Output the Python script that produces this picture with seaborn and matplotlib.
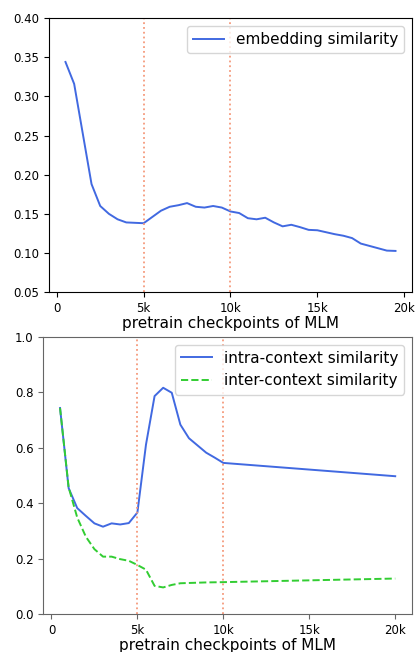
import matplotlib
matplotlib.use("Agg")
import matplotlib.pyplot as plt
import seaborn as sns
import pandas as pd

# ---- data ----
steps_top = [500, 1000, 1500, 2000, 2500, 3000, 3500, 4000, 4500, 5000,
             5500, 6000, 6500, 7000, 7500, 8000, 8500, 9000, 9500, 10000,
             10500, 11000, 11500, 12000, 12500, 13000, 13500, 14000, 14500, 15000,
             15500, 16000, 16500, 17000, 17500, 18000, 18500, 19000, 19500]
embedding_sim = [0.344, 0.316, 0.252, 0.188, 0.160, 0.150, 0.143, 0.139, 0.1385, 0.138,
                 0.146, 0.154, 0.159, 0.161, 0.1637, 0.159, 0.158, 0.160, 0.158, 0.153,
                 0.151, 0.1444, 0.143, 0.145, 0.139, 0.134, 0.136, 0.133, 0.1295, 0.129,
                 0.1265, 0.124, 0.122, 0.119, 0.112, 0.109, 0.106, 0.103, 0.1026]

steps_bot = [500, 1000, 1500, 2000, 2500, 3000, 3500, 4000, 4500, 5000,
             5500, 6000, 6500, 7000, 7500, 8000, 8500, 9000, 9500, 10000, 20000]
intra_sim = [0.744, 0.455, 0.383, 0.355, 0.328, 0.316, 0.328, 0.324, 0.329, 0.367,
             0.612, 0.787, 0.817, 0.799, 0.684, 0.635, 0.609, 0.583, 0.565, 0.546, 0.498]
inter_sim = [0.744, 0.458, 0.349, 0.280, 0.235, 0.208, 0.208, 0.199, 0.193, 0.178,
             0.161, 0.1025, 0.097, 0.106, 0.112, 0.113, 0.114, 0.115, 0.1155, 0.116, 0.129]

xtick_vals = [0, 5000, 10000, 15000, 20000]
xtick_labels = ["0", "5k", "10k", "15k", "20k"]
top_yticks = [0.05, 0.10, 0.15, 0.20, 0.25, 0.30, 0.35, 0.40]
bot_yticks = [0.0, 0.2, 0.4, 0.6, 0.8, 1.0]
vlines = [5000, 10000]
xlabel = "pretrain checkpoints of MLM"

BLUE = "#4169E1"
GREEN = "#32CD32"
VCOL = "#F59A7C"

plt.rcParams['font.family'] = ['DejaVu Sans']

fig = plt.figure(figsize=(4.15, 6.52), dpi=100)
ax1 = fig.add_axes([0.118, 0.552, 0.8748, 0.4202])
ax2 = fig.add_axes([0.1043, 0.0578, 0.8884, 0.4253])

# top panel
df_top = pd.DataFrame({"step": steps_top, "sim": embedding_sim})
sns.lineplot(data=df_top, x="step", y="sim", ax=ax1, color=BLUE, linewidth=1.4,
             label="embedding similarity")
for v in vlines:
    ax1.axvline(v, color=VCOL, linestyle=":", linewidth=1.3)
ax1.set_ylim(0.05, 0.40)
ax1.set_yticks(top_yticks)
ax1.set_yticklabels([f"{t:.2f}" for t in top_yticks])
ax1.set_xticks(xtick_vals)
ax1.set_xticklabels(xtick_labels)
ax1.set_xlabel(xlabel, fontsize=11, labelpad=0.5)
ax1.set_ylabel("")
ax1.tick_params(labelsize=8.5, length=3.5, width=0.8)
ax1.legend(loc="upper right", fontsize=11)

# bottom panel
df_bot = pd.DataFrame({
    "step": steps_bot * 2,
    "sim": intra_sim + inter_sim,
    "kind": ["intra-context similarity"] * len(steps_bot) + ["inter-context similarity"] * len(steps_bot),
})
sns.lineplot(data=df_bot[df_bot.kind == "intra-context similarity"], x="step", y="sim",
             ax=ax2, color=BLUE, linewidth=1.4, label="intra-context similarity")
sns.lineplot(data=df_bot[df_bot.kind == "inter-context similarity"], x="step", y="sim",
             ax=ax2, color=GREEN, linewidth=1.4, linestyle="--", label="inter-context similarity")
for v in vlines:
    ax2.axvline(v, color=VCOL, linestyle=":", linewidth=1.3)
ax2.set_ylim(0.0, 1.0)
ax2.set_yticks(bot_yticks)
ax2.set_yticklabels([f"{t:.1f}" for t in bot_yticks])
ax2.set_xticks(xtick_vals)
ax2.set_xticklabels(xtick_labels)
ax2.set_xlabel(xlabel, fontsize=11, labelpad=0.5)
ax2.set_ylabel("")
ax2.tick_params(labelsize=8.5, length=3.5, width=0.8, color="#666666")
for s in ax2.spines.values():
    s.set_color("#666666")
ax2.legend(loc="upper right", fontsize=11)

fig.savefig("out.png", dpi=100)
